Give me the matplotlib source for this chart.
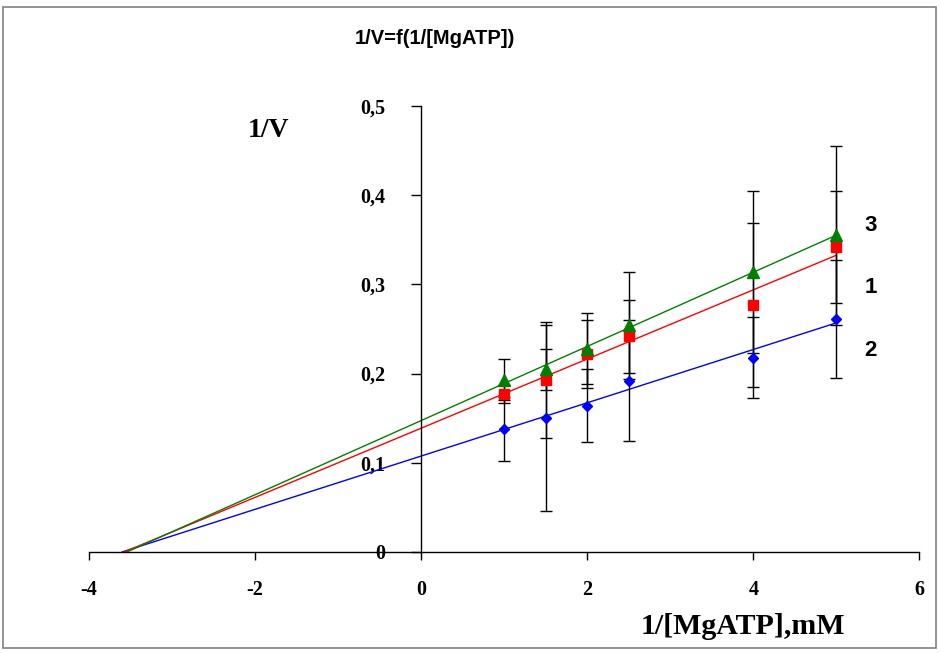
import numpy as np
import matplotlib
matplotlib.use("Agg")
import matplotlib.pyplot as plt
from matplotlib.patches import Rectangle

# 1/[MgATP], mM^-1
inv_s = [1.0, 1.5, 2.0, 2.5, 4.0, 5.0]

# 1/V for the three series and their standard deviations
inv_v_1 = [0.177, 0.193, 0.222, 0.242, 0.277, 0.342]
err_1 = [0.010, 0.065, 0.038, 0.041, 0.092, 0.063]
inv_v_2 = [0.138, 0.150, 0.164, 0.192, 0.218, 0.261]
err_2 = [0.036, 0.104, 0.041, 0.068, 0.045, 0.066]
inv_v_3 = [0.193, 0.205, 0.228, 0.254, 0.314, 0.355]
err_3 = [0.023, 0.023, 0.040, 0.060, 0.091, 0.100]

series_names = ["1", "2", "3"]
y_ticks = [0, 0.1, 0.2, 0.3, 0.4, 0.5]
y_tick_labels = ["0", "0,1", "0,2", "0,3", "0,4", "0,5"]
x_ticks = [-4, -2, 0, 2, 4, 6]
x_tick_labels = ["-4", "-2", "0", "2", "4", "6"]

serif = "Liberation Serif"
sans = "Liberation Sans"

fig = plt.figure(figsize=(9.41, 6.53), dpi=100)
ax = fig.add_axes([0.0946, 0.1547, 0.8824, 0.6830])

styles = {
    "1": dict(color="red", marker="s", ms=7),
    "2": dict(color="blue", marker="D", ms=5),
    "3": dict(color="green", marker="^", ms=8),
}
data = {"1": (inv_v_1, err_1), "2": (inv_v_2, err_2), "3": (inv_v_3, err_3)}

for name in ["2", "1", "3"]:
    yv, ev = data[name]
    st = styles[name]
    # least squares trend line, extended back to the x axis
    k, b = np.polyfit(inv_s, yv, 1)
    xl = np.array([-b / k, max(inv_s)])
    ax.plot(xl, k * xl + b, color=st["color"], lw=1, zorder=2)
    ax.errorbar(inv_s, yv, yerr=ev, fmt="none", ecolor="black",
                elinewidth=1, capsize=4, capthick=1, zorder=3)
    ax.plot(inv_s, yv, linestyle="none", marker=st["marker"],
            color=st["color"], ms=st["ms"], zorder=4)

ax.set_xlim(-4, 6)
ax.set_ylim(0, 0.5)

# axes crossing at the origin
ax.spines["left"].set_position(("data", 0))
ax.spines["bottom"].set_position(("data", 0))
ax.spines["right"].set_visible(False)
ax.spines["top"].set_visible(False)
for s in ("left", "bottom"):
    ax.spines[s].set_linewidth(1)
    ax.spines[s].set_color("black")

ax.set_yticks(y_ticks)
ax.set_yticklabels(y_tick_labels)
ax.set_xticks(x_ticks)
ax.set_xticklabels(x_tick_labels)
ax.tick_params(axis="y", direction="out", length=7, width=1, pad=19)
ax.tick_params(axis="x", direction="out", length=6, width=1, pad=14)
for lab in ax.get_xticklabels() + ax.get_yticklabels():
    lab.set_fontfamily(serif)
    lab.set_fontweight("bold")
    lab.set_fontsize(14.5)

fig.text(0.462, 0.941, "1/V=f(1/[MgATP])", family=sans, weight="bold",
         fontsize=14.5, ha="center", va="center")
fig.text(0.285, 0.800, "1/V", family=serif, weight="bold",
         fontsize=20, ha="center", va="center")
fig.text(0.789, 0.040, "1/[MgATP],mM", family=serif, weight="bold",
         fontsize=21.5, ha="center", va="center")

# series numbers at the right end of the lines
label_y = {"3": 0.654, "1": 0.559, "2": 0.464}
for name in ["3", "1", "2"]:
    fig.text(0.925, label_y[name], name, family=sans, weight="bold",
             fontsize=16, ha="center", va="center")

fig.patches.append(Rectangle((0.003, 0.008), 0.992, 0.982, transform=fig.transFigure,
                             fill=False, edgecolor="#808080", lw=1.2))

fig.savefig("out.png", dpi=100)
